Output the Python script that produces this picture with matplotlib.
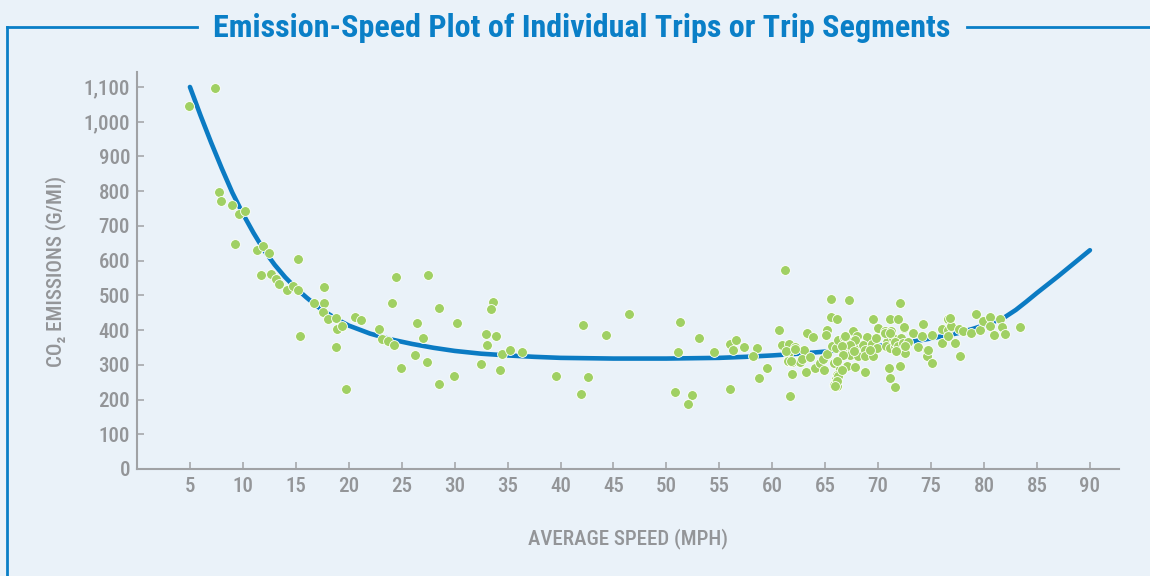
import matplotlib
matplotlib.use("Agg")
import matplotlib.pyplot as plt
from matplotlib.lines import Line2D
from matplotlib.ticker import FuncFormatter

# ---------------- data ----------------
title = "Emission-Speed Plot of Individual Trips or Trip Segments"
x_label = "AVERAGE SPEED (MPH)"
y_label = "CO\u2082 EMISSIONS (G/MI)"
x_ticks = [5, 10, 15, 20, 25, 30, 35, 40, 45, 50, 55, 60, 65, 70, 75, 80, 85, 90]
y_ticks = [0, 100, 200, 300, 400, 500, 600, 700, 800, 900, 1000, 1100]

# trend curve
curve_speed = [5, 6, 7, 8, 9, 10, 11, 12, 13, 14, 15, 16, 17, 18, 19, 20, 22, 24, 26,
               28, 30, 32.5, 35, 37.5, 40, 42.5, 45, 47.5, 50, 52.5, 55, 57.5, 60,
               62.5, 65, 67.5, 70, 72.5, 75, 77.5, 79, 80, 81, 82, 83, 84, 85, 86, 87,
               88, 89, 90]
curve_co2 = [1100, 1018, 940, 866, 796, 735, 680, 630, 588, 552, 521, 494, 469, 448,
             429, 413, 390, 373, 360, 349, 340, 332, 327, 323, 320, 319, 318, 318, 318,
             319, 320, 323, 327, 332, 338, 346, 354, 363, 376, 391, 404, 414, 425, 438,
             458, 482, 507, 531, 555, 580, 605, 630]

# individual trips / trip segments
trip_speed = [
    4.9, 7.4, 7.7, 7.9, 9.0, 9.6, 10.2, 9.3, 11.3, 11.9, 12.5, 15.2, 11.7, 12.7, 13.1,
    13.4, 14.2, 14.7, 15.2, 17.7, 16.7, 17.7, 17.6, 18.0, 18.8, 20.6, 21.2, 24.5, 24.1,
    18.9, 19.4, 15.4, 18.8, 19.7, 22.9, 23.1, 23.7, 24.3, 26.4, 27.0, 28.5, 26.3, 27.4,
    24.9, 27.5, 30.2, 28.5, 29.9, 33.6, 33.4, 33.0, 33.9, 33.1, 32.5, 34.3, 34.5, 35.2,
    36.4, 39.6, 42.1, 42.6, 41.9, 44.3, 46.5, 51.3, 51.1, 50.8, 52.4, 52.0, 53.1, 54.5,
    56.0, 56.6, 56.3, 57.3, 58.6, 58.2, 56.0, 59.5, 58.7, 60.6, 60.9,
    61.2, 65.5, 67.2, 65.5, 66.1, 63.3, 63.8, 65.2, 65.1, 61.6, 61.5, 62.1, 63.0, 61.9,
    61.7, 61.5, 61.9, 62.6, 62.8, 63.6, 63.2, 64.0, 64.5, 64.8, 64.9, 65.2, 65.6, 66.0,
    66.2, 66.8, 67.3, 67.6, 68.0, 65.8, 66.1, 67.0, 66.7, 67.3, 67.7, 68.1, 67.1, 67.8,
    68.8, 66.4, 66.1, 66.0, 65.9, 66.1, 65.8, 68.9, 68.6, 68.8, 68.8, 69.4, 69.4, 69.5,
    69.8, 69.9, 69.5, 70.0, 70.6, 70.8, 70.7, 71.1, 71.9, 71.2, 71.4, 71.1, 71.6, 71.0,
    71.1, 71.6, 72.1, 72.1, 72.4, 72.2, 72.4, 72.5, 73.3, 74.2, 74.1, 73.8, 74.6, 74.6,
    75.1, 75.1, 76.0, 76.0, 76.6, 76.6, 61.3, 62.1, 61.8, 66.2, 66.1, 65.9, 66.9, 67.8,
    67.3, 66.6, 66.7, 67.7, 66.1, 66.6, 69.2, 70.6, 71.1, 71.6, 71.9, 71.7, 72.3, 72.4,
    72.8, 72.5, 74.7, 76.85, 76.6, 77.3, 77.6, 77.7, 78.0, 78.8, 79.2, 79.6, 79.9, 80.6,
    80.6, 80.9, 81.5, 81.7, 82.0, 83.4, 76.8]
trip_co2 = [
    1044, 1097, 799, 773, 761, 734, 744, 648, 632, 642, 622, 604, 559, 562, 547,
    534, 516, 528, 515, 525, 478, 478, 451, 432, 434, 439, 430, 554, 477,
    402, 411, 383, 352, 229, 403, 374, 369, 358, 420, 378, 465, 329, 308,
    291, 560, 421, 246, 268, 481, 460, 390, 382, 357, 302, 285, 330, 343,
    338, 267, 415, 265, 216, 387, 446, 423, 336, 223, 213, 188, 377, 337,
    359, 372, 344, 350, 349, 326, 231, 290, 262, 399, 358,
    572, 490, 488, 439, 431, 392, 381, 401, 387, 361, 331, 350, 343, 274,
    209, 312, 307, 309, 318, 323, 278, 292, 305, 317, 284, 331, 353, 349,
    372, 379, 367, 396, 382, 305, 312, 343, 334, 329, 348, 324, 297, 295,
    279, 289, 271, 259, 248, 238, 243, 380, 358, 344, 326, 360, 339, 324,
    377, 348, 432, 406, 396, 367, 353, 432, 432, 396, 377, 348, 353, 291,
    261, 236, 297, 478, 406, 377, 348, 334, 392, 418, 384, 350, 343, 326,
    305, 385, 403, 363, 432, 401, 339, 345, 310, 267, 252, 240, 382, 372,
    358, 353, 329, 339, 310, 286, 344, 392, 392, 367, 353, 339, 363, 409,
    367, 353, 342, 413, 382, 363, 403, 324, 398, 393, 446, 399, 425, 439,
    411, 387, 433, 409, 390, 408, 435]

# ---------------- style ----------------
BG = "#EAF2F9"
BLUE = "#0A7FC7"
LINE_BLUE = "#0B7BC3"
GREEN = "#A0D063"
GRAY = "#939598"
FONT = ["Roboto Condensed", "DejaVu Sans"]

plt.rcParams["font.family"] = FONT

W, H = 1150, 576
fig = plt.figure(figsize=(W / 100, H / 100), dpi=100, facecolor=BG)

ax_l, ax_r, ax_b, ax_t = 137, 1119, 469, 72
ax = fig.add_axes([ax_l / W, 1 - ax_b / H, (ax_r - ax_l) / W, (ax_b - ax_t) / H])
ax.set_facecolor(BG)

ax.plot(curve_speed, curve_co2, color=LINE_BLUE, lw=3.3, solid_capstyle="round",
        solid_joinstyle="round", zorder=2)
ax.scatter(trip_speed, trip_co2, s=50, color=GREEN, edgecolors="white",
           linewidths=0.6, zorder=3)

ax.set_xlim(0, (ax_r - ax_l) / 10.588)
ax.set_ylim(0, (ax_b - ax_t) / 0.3473)

ax.set_xticks(x_ticks)
ax.set_yticks(y_ticks)
ax.yaxis.set_major_formatter(FuncFormatter(lambda v, p: f"{int(v):,}"))

for s in ["top", "right"]:
    ax.spines[s].set_visible(False)
for s in ["left", "bottom"]:
    ax.spines[s].set_color("#A0A2A5")
    ax.spines[s].set_linewidth(1.5)

ax.tick_params(axis="both", direction="in", length=5, width=1.1, color="#A0A2A5",
               labelcolor=GRAY, labelsize=15)
ax.tick_params(axis="x", pad=6)
ax.tick_params(axis="y", pad=5)
for lab in ax.get_xticklabels() + ax.get_yticklabels():
    lab.set_fontweight("medium")

ax.set_xlabel(x_label, color=GRAY, fontsize=15, fontweight="medium", labelpad=23)
fig.text(55.5 / W, 1 - 271 / H, y_label, rotation=90, color=GRAY, fontsize=15,
         fontweight="medium", ha="center", va="center", family=FONT)

# title and frame
fig.text(582 / W, 1 - 28 / H, title, color=BLUE, fontsize=23, fontweight="bold",
         ha="center", va="center")
lw_frame = 2.0
fig.add_artist(Line2D([7 / W, 7 / W], [0, 1 - 27 / H], color=BLUE, lw=lw_frame,
                      solid_capstyle="projecting"))
fig.add_artist(Line2D([7 / W, 197 / W], [1 - 27 / H, 1 - 27 / H], color=BLUE,
                      lw=lw_frame, solid_capstyle="projecting"))
fig.add_artist(Line2D([967 / W, 1], [1 - 27 / H, 1 - 27 / H], color=BLUE,
                      lw=lw_frame))

fig.savefig("out.png", dpi=100, facecolor=BG)
